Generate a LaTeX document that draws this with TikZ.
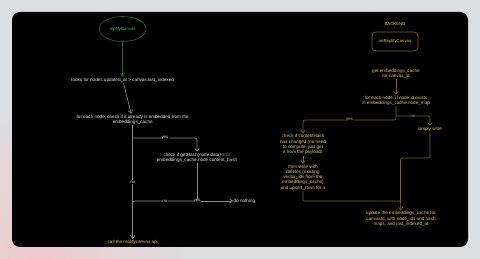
\documentclass[tikz,border=0pt]{standalone}
\usepackage{fontspec}
\setmainfont{Liberation Sans}
\usetikzlibrary{arrows.meta,shapes.geometric}
\definecolor{bggray}{HTML}{DCDFE2}
\definecolor{bgpink}{HTML}{EFC9CD}
\definecolor{gline}{HTML}{1F6B2E}
\definecolor{gtext}{HTML}{3DC25A}
\definecolor{yline}{HTML}{7D6618}
\definecolor{ytext}{HTML}{EAC642}
\definecolor{wline}{HTML}{8C8C8C}
\definecolor{wtext}{HTML}{E6E6E6}
\tikzset{
  txt/.style={font=\fontsize{4.6}{5.3}\selectfont, align=center, inner sep=0.8pt},
  wnode/.style={txt, text=wtext},
  ynode/.style={txt, text=ytext},
  lbl/.style={font=\fontsize{4.3}{5}\selectfont, fill=black, inner sep=0.6pt},
  arr/.style={-{Straight Barb[length=3pt,width=4.5pt]}, line width=0.6pt},
  wcon/.style={arr, draw=wline},
  ycon/.style={arr, draw=yline},
  wplain/.style={line width=0.6pt, draw=wline, rounded corners=2pt},
  yplain/.style={line width=0.6pt, draw=yline, rounded corners=2pt},
}
\begin{document}
\begin{tikzpicture}[x=1pt,y=-1pt]
\useasboundingbox (0,0) rectangle (480,259);
\fill[bggray] (0,0) rectangle (480,259);
\begin{scope}
\clip (0,0) rectangle (480,259);
\shade[inner color=bgpink, outer color=bggray] (40,259) circle (160);
\end{scope}
\fill[black] (12,12) [rounded corners=8pt] rectangle (468,247);

% left flow
\node[ellipse, draw=gline, line width=0.6pt, minimum width=47pt, minimum height=25pt, inner sep=0pt, text=gtext, font=\fontsize{4.3}{5}\selectfont] (rep) at (122.7,29) {replifyCanvas};
\node[wnode] (looks) at (122.7,80) {looks for nodes.updated\_at > canvas.last\_indexed};
\node[wnode] (embed) at (132.7,119.5) {for each node, check if it already is embedded from the\\embeddings\_cache};
\node[wnode] (check) at (197,157.5) {check if getHash(node.data) ===\\embeddings\_cache.node.content\_hash};
\node[wnode, anchor=west, inner sep=0.5pt] (nothing) at (233,201) {do nothing};
\node[ynode] (call) at (132.7,242) {call the replifycanvas api};
\coordinate (yessplit) at (132.7,138);
\coordinate (merge) at (132.7,201);
\coordinate (corner) at (197,201);

\draw[arr, draw=gline] (rep) -- (looks);
\draw[wcon] (looks) -- (embed);
\draw[wcon] (embed.south -| call) -- node[lbl, text=wtext, pos=0.5] {no} (call);
\draw[wcon, rounded corners=2pt] (yessplit) -- node[lbl, text=wtext] {yes} (yessplit -| check) -- (check);
\draw[wcon] (check) -- (corner) -- (nothing);
\node[lbl, text=wtext] (yeslbl) at (corner) {yes};
\draw[wplain] (corner) -- node[lbl, text=wtext] {no} (merge) -- ++(0,4);

% right flow
\node[ynode, font=\fontsize{4.3}{5}\selectfont] (backend) at (395,24) {BACKEND};
\node[draw=yline, line width=0.6pt, rounded corners=4pt, minimum width=46pt, minimum height=19pt, text=ytext, font=\fontsize{4.3}{5}\selectfont, inner sep=0pt] (onrep) at (395,41.5) {onReplifyCanvas};
\node[ynode] (getc) at (396,73.5) {get embeddings\_cache\\for canvas\_id};
\node[ynode] (foreach) at (396,100.5) {for each node, if node.id exists\\in embeddings\_cache.node\_map};
\node[ynode] (hash) at (303,144.5) {check if contentHash\\has changed (no need\\to compute, just get\\it from the payload)};
\node[ynode] (write) at (303,177.5) {then write with\\deletes (existing\\vector\_ids from the\\embeddings\_cache)\\and upsert\_rows for a};
\node[ynode] (simply) at (430,129) {simply write};
\node[ynode] (update) at (401,219) {update the embeddings\_cache for\\canvasId, with node\_ids and hash\\maps, and last\_indexed\_at};
\coordinate (rsplit) at (396,116);
\coordinate (yesrow) at (396,120);
\coordinate (sturn) at (430,158);
\coordinate (umerge) at (400.5,201);

\draw[ycon] (getc) -- (foreach);
\draw[ycon, rounded corners=2pt] (foreach.south) -- (yesrow) -- node[lbl, text=ytext] {yes} (yesrow -| hash) -- (hash);
\draw[ycon, rounded corners=2pt] (rsplit) -- node[lbl, text=ytext] {no} (rsplit -| simply) -- (simply);
\draw[ycon] (hash) -- (write);
\draw[yplain] (simply) -- (sturn) -- (sturn -| umerge) -- (umerge);
\draw[yplain] (write.south) -- (write.south |- umerge) -- (umerge);
\draw[ycon] (umerge) -- (update);
\end{tikzpicture}
\end{document}
